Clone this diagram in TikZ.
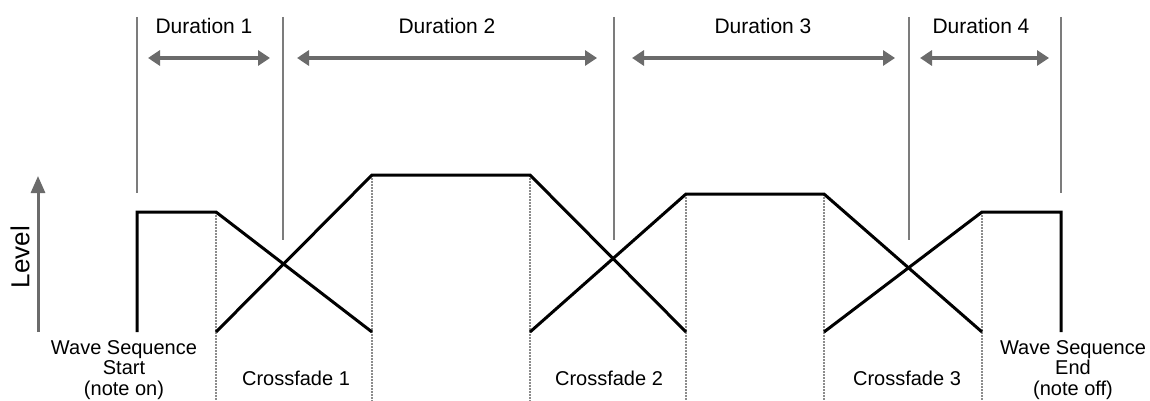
\documentclass[tikz,border=0pt]{standalone}
\usepackage{fontspec}
\setmainfont{Liberation Sans}
\usetikzlibrary{arrows.meta}
\definecolor{arrowgray}{HTML}{6B6B6B}
\definecolor{markgray}{HTML}{7C7C7C}
\definecolor{dotgray}{HTML}{8C8C8C}
\begin{document}
\begin{tikzpicture}[x=1pt,y=-1pt,
  wave/.style={line width=3pt, line join=miter},
  marker/.style={draw=markgray, line width=2pt},
  dur/.style={draw=arrowgray, line width=4pt, {Triangle[length=12pt,width=15pt]}-{Triangle[length=12pt,width=15pt]}},
  guide/.style={draw=dotgray, line width=1.5pt, dash pattern=on 1.5pt off 1.5pt},
  lab/.style={font=\fontsize{20}{20.5}\selectfont, align=center, inner sep=0pt},
  durlab/.style={font=\fontsize{21}{24}\selectfont, inner sep=0pt}]
\useasboundingbox (0,0) rectangle (1150,401);

% marker lines
\coordinate (m1t) at (137,17);  \coordinate (m1b) at (137,193);
\coordinate (m2t) at (283,17);  \coordinate (m2b) at (283,240);
\coordinate (m3t) at (614,17);  \coordinate (m3b) at (614,240);
\coordinate (m4t) at (909,17);  \coordinate (m4b) at (909,240);
\coordinate (m5t) at (1061,17); \coordinate (m5b) at (1061,193);
\foreach \i in {1,...,5} \draw[marker] (m\i t) -- (m\i b);

% duration arrows
\coordinate (d1a) at (148,58); \coordinate (d1b) at (270,58);
\coordinate (d2a) at (297,58); \coordinate (d2b) at (597,58);
\coordinate (d3a) at (632,58); \coordinate (d3b) at (895,58);
\coordinate (d4a) at (920,58); \coordinate (d4b) at (1049,58);
\foreach \i in {1,...,4} \draw[dur] (d\i a) -- (d\i b);

\node[durlab] (dl1) at (204,26) {Duration 1};
\node[durlab] (dl2) at (447,26) {Duration 2};
\node[durlab] (dl3) at (763,26) {Duration 3};
\node[durlab] (dl4) at (981,26) {Duration 4};

% level axis
\coordinate (la) at (38,332); \coordinate (lb) at (38,176);
\draw[draw=arrowgray, line width=3pt, -{Triangle[length=17pt,width=14pt]}] (la) -- (lb);
\node[rotate=90, inner sep=0pt, font=\fontsize{26}{30}\selectfont] (lvl) at (20,257) {Level};

% corners
\coordinate (c1) at (216,212); \coordinate (c2) at (372,175);
\coordinate (c3) at (530,175); \coordinate (c4) at (686,194);
\coordinate (c5) at (824,194); \coordinate (c6) at (982,212);

% dotted guides
\foreach \i in {1,...,6} \draw[guide] (c\i) -- (c\i |- 0,401);

% waves
\draw[wave] (137,332) -- (137,212) -- (c1) -- (372,332);
\draw[wave] (216,332) -- (c2) -- (c3) -- (686,332);
\draw[wave] (530,332) -- (c4) -- (c5) -- (982,332);
\draw[wave] (824,332) -- (c6) -- (1061,212) -- (1061,332);

% labels
\node[lab] (ws) at (124,370) {Wave Sequence\\Start\\(note on)};
\node[lab] (cf1) at (296,378) {Crossfade 1};
\node[lab] (cf2) at (609,378) {Crossfade 2};
\node[lab] (cf3) at (907,378) {Crossfade 3};
\node[lab] (we) at (1073,370) {Wave Sequence\\End\\(note off)};
\end{tikzpicture}
\end{document}
